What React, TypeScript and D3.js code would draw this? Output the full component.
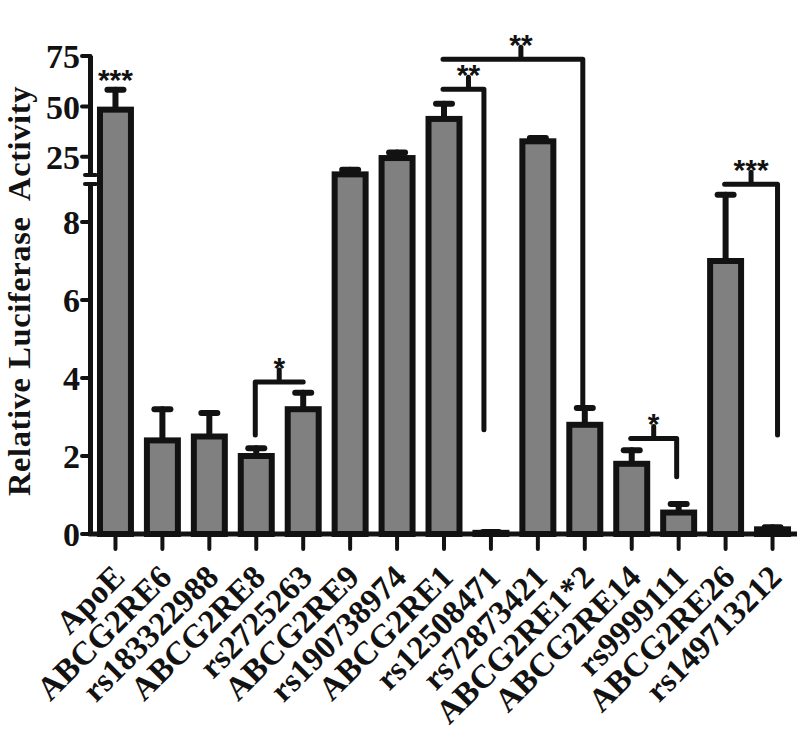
import React from 'react';
import * as d3 from 'd3';

// bar data
const categories = ['ApoE', 'ABCG2RE6', 'rs183322988', 'ABCG2RE8', 'rs2725263', 'ABCG2RE9', 'rs190738974',
  'ABCG2RE1', 'rs12508471', 'rs72873421', 'ABCG2RE1*2', 'ABCG2RE14', 'rs9999111', 'ABCG2RE26', 'rs149713212'];
const means = [48.4, 2.4, 2.5, 2.0, 3.2, 16.3, 24.4, 43.8, 0.03, 32.7, 2.8, 1.8, 0.55, 7.0, 0.12];
const errors = [9.9, 0.8, 0.6, 0.2, 0.42, 2.3, 2.8, 7.5, 0.02, 1.6, 0.43, 0.35, 0.22, 1.7, 0.05];

const lowerTicks = [0, 2, 4, 6, 8];
const upperTicks = [25, 50, 75];

// significance brackets: from / to category, bar level, leg end level, leg side, stars
const bracketFrom = ['ABCG2RE8', 'ABCG2RE1', 'ABCG2RE1', 'ABCG2RE14', 'ABCG2RE26'];
const bracketTo = ['rs2725263', 'rs12508471', 'ABCG2RE1*2', 'rs9999111', 'rs149713212'];
const bracketLevel = [3.9, 58.5, 73.4, 2.45, 8.97];
const bracketLegEnd = [2.54, 2.67, 3.3, 1.47, 2.54];
const bracketLegSide = ['left', 'right', 'right', 'right', 'right'];
const bracketStars = ['*', '**', '**', '*', '***'];

export default function App() {
  const width = 800;
  const height = 729;
  const ink = '#121212';
  const serif = '"Liberation Serif", "Times New Roman", serif';
  const sans = '"Liberation Sans", Arial, sans-serif';

  const x = d3.scaleBand<string>()
    .domain(categories)
    .range([92, 796])
    .paddingInner(0.34)
    .paddingOuter(0.17);

  // broken axis: 0-9 below the break, 15-75 above it
  const y = d3.scaleLinear()
    .domain([0, 9, 15, 75])
    .range([534, 183, 177, 56]);

  const cx = (c: string) => (x(c) as number) + x.bandwidth() / 2;
  const axisX = 90.5;

  const bars = categories.map((c, i) => (
    <rect key={'b' + i}
      x={x(c)} width={x.bandwidth()}
      y={y(means[i])} height={y(0) - y(means[i])}
      fill="#808080" stroke={ink} strokeWidth={6} />
  ));

  const errs = categories.map((c, i) => {
    const top = y(means[i] + errors[i]);
    return (
      <g key={'e' + i} stroke={ink} strokeLinecap="round">
        <line x1={cx(c)} x2={cx(c)} y1={y(means[i])} y2={top} strokeWidth={6} />
        <line x1={cx(c) - 8} x2={cx(c) + 8} y1={top} y2={top} strokeWidth={6} />
      </g>
    );
  });

  const legNudge = [0, -7, -2, -2, 5];
  const midNudge = [0, 5, 8, 0, 0];
  const brackets = bracketFrom.map((f, i) => {
    const x1 = cx(f) - 1;
    const x2 = cx(bracketTo[i]) + legNudge[i];
    const yy = y(bracketLevel[i]);
    const legX = bracketLegSide[i] === 'left' ? x1 : x2;
    const mid = (x1 + x2) / 2 + midNudge[i];
    const tickTop = yy - 12;
    return (
      <g key={'s' + i}>
        <path d={`M${x1},${yy}H${x2}M${legX},${yy}V${y(bracketLegEnd[i])}M${mid},${yy}V${tickTop}`}
          fill="none" stroke={ink} strokeWidth={5} strokeLinecap="round" strokeLinejoin="round" />
        <text x={mid} y={tickTop + 8} textAnchor="middle" fontFamily={sans} fontWeight="bold"
          fontSize={30} fill={ink}>{bracketStars[i]}</text>
      </g>
    );
  });

  return (
    <svg width={width} height={height} style={{ position: 'absolute', left: 0, top: 0, background: '#fff' }}>
      {errs}
      {bars}

      {/* y axis with break */}
      <g stroke={ink} strokeLinecap="round">
        <line x1={axisX} x2={axisX} y1={y(0) + 2} y2={y(9) + 1} strokeWidth={5} strokeLinecap="butt" />
        <line x1={axisX} x2={axisX} y1={y(15) - 2} y2={y(75)} strokeWidth={5} strokeLinecap="butt" />
        <line x1={85} x2={96} y1={y(9) + 1} y2={y(9) + 1} strokeWidth={4} />
        <line x1={85} x2={96} y1={y(15) - 2} y2={y(15) - 2} strokeWidth={4} />
        {lowerTicks.concat(upperTicks).map(t => (
          <line key={'yt' + t} x1={82} x2={axisX} y1={y(t)} y2={y(t)} strokeWidth={4} />
        ))}
      </g>
      {lowerTicks.concat(upperTicks).map(t => (
        <text key={'yl' + t} x={80} y={y(t)} dy="0.36em" textAnchor="end"
          fontFamily={serif} fontWeight="bold" fontSize={34} fill={ink}>{t}</text>
      ))}

      {/* x axis */}
      <line x1={axisX - 2} x2={797} y1={y(0)} y2={y(0)} stroke={ink} strokeWidth={5} />
      {categories.map(c => (
        <line key={'xt' + c} x1={cx(c)} x2={cx(c)} y1={y(0)} y2={y(0) + 15}
          stroke={ink} strokeWidth={4} strokeLinecap="round" />
      ))}
      {categories.map(c => (
        <text key={'xl' + c} transform={`translate(${cx(c) + 11},579) rotate(-45)`} textAnchor="end"
          fontFamily={serif} fontWeight="bold" fontSize={33} fill={ink}>{c}</text>
      ))}

      {/* stars over ApoE */}
      <text x={cx('ApoE')} y={y(means[0] + errors[0])} textAnchor="middle" fontFamily={sans}
        fontWeight="bold" fontSize={30} fill={ink}>***</text>

      {brackets}

      <text transform="translate(29.5,291) rotate(-90)" textAnchor="middle" fontFamily={serif}
        fontWeight="bold" fontSize={32.5} letterSpacing={0.6} fill={ink}
        style={{ whiteSpace: 'pre' }}>Relative Luciferase  Activity</text>
    </svg>
  );
}
